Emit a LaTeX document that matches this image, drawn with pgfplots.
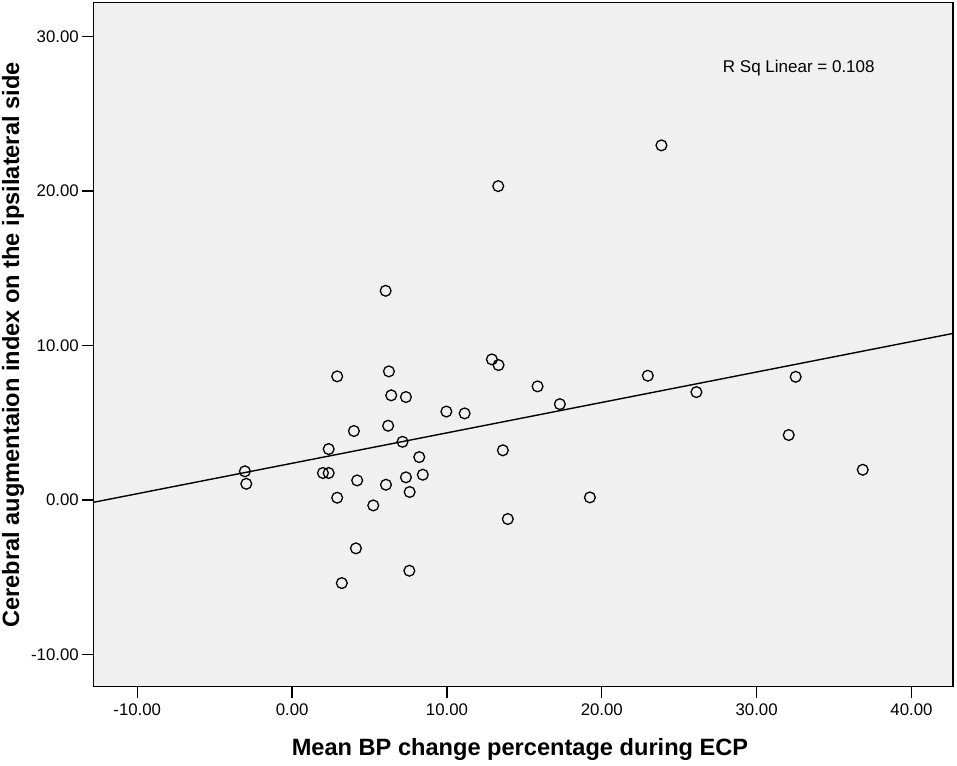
\documentclass[border=0pt]{standalone}
\usepackage{fontspec}
\setmainfont{Liberation Sans}
\usepackage{pgfplots}
\pgfplotsset{compat=1.18}
\definecolor{plotbg}{RGB}{240,240,240}
\begin{document}
\begin{tikzpicture}
\useasboundingbox (0,0) rectangle (957bp,766bp);
\begin{axis}[
  at={(93.3bp,79.3bp)}, anchor=south west,
  scale only axis, width=859.7bp, height=684bp,
  xmin=-12.84, xmax=42.68, ymin=-12.10, ymax=32.20,
  axis background/.style={fill=plotbg},
  axis line style={line width=1.3bp},
  xtick={-10,0,10,20,30,40},
  xticklabels={-10.00,0.00,10.00,20.00,30.00,40.00},
  ytick={-10,0,10,20,30},
  yticklabels={-10.00,0.00,10.00,20.00,30.00},
  tick align=outside, xtick pos=bottom, ytick pos=left,
  major tick length=11bp,
  every tick/.style={black, line width=1.3bp},
  tick label style={font=\fontsize{16.8bp}{20bp}\selectfont},
  xticklabel style={yshift=-3bp},
]
\addplot[black, line width=1.4bp] coordinates {(-12.84,-0.16) (42.68,10.78)};
\addplot[only marks, mark=o, mark size=5.4bp, mark options={black, line width=1.3bp}] coordinates {
(-3.05,1.85) (-2.96,1.04) (1.99,1.74) (2.36,1.74) (2.36,3.29)
(2.91,8.00) (2.91,0.14) (3.21,-5.39) (3.99,4.46) (4.20,1.26)
(4.12,-3.14) (5.24,-0.36) (6.04,13.54) (6.25,8.32) (6.40,6.77)
(6.20,4.80) (6.06,0.98) (7.13,3.76) (7.35,6.66) (7.35,1.46)
(7.59,0.51) (7.57,-4.59) (8.21,2.77) (8.44,1.63) (9.96,5.72)
(11.14,5.60) (12.90,9.10) (13.33,8.73) (13.31,20.32) (13.61,3.21)
(13.93,-1.24) (15.85,7.35) (17.29,6.20) (19.23,0.16) (22.97,8.04)
(23.85,22.96) (26.11,6.98) (32.07,4.20) (32.52,7.97) (36.85,1.95)
};
\node[font=\fontsize{17bp}{20bp}\selectfont] at (axis cs:32.72,27.97) {R Sq Linear = 0.108};
\end{axis}
\node[anchor=base, font=\fontsize{23.6bp}{28bp}\selectfont\bfseries] at (520bp,11bp) {Mean BP change percentage during ECP};
\node[rotate=90, anchor=base, font=\fontsize{23.6bp}{28bp}\selectfont\bfseries] at (19bp,421bp) {Cerebral augmentaion index on the ipsilateral side};
\end{tikzpicture}
\end{document}
